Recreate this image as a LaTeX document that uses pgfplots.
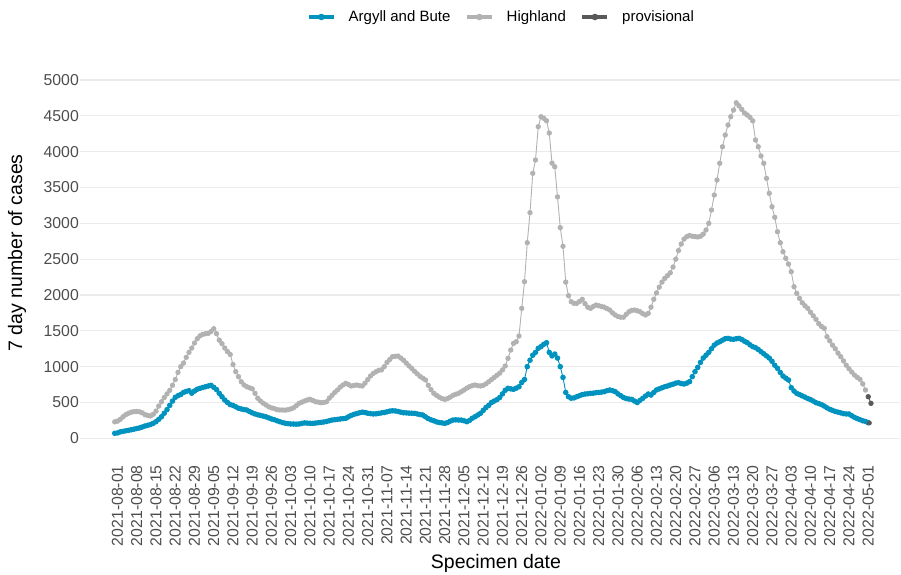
\documentclass[border=0pt]{standalone}
\usepackage{pgfplots}
\pgfplotsset{compat=1.18}
\usepackage{fontspec}
\setmainfont{Liberation Sans}
\definecolor{argyll}{RGB}{0,147,191}
\definecolor{highland}{RGB}{178,178,178}
\definecolor{prov}{RGB}{89,89,89}
\definecolor{gridc}{RGB}{235,235,235}
\definecolor{tickc}{RGB}{77,77,77}
\begin{document}
\begin{tikzpicture}
\path[use as bounding box] (0pt,0pt) rectangle (901pt,574pt);
\begin{axis}[
  at={(80pt,122pt)}, anchor=south west,
  scale only axis, width=820pt, height=382pt,
  xmin=-13.64, xmax=284.55, ymin=-191, ymax=5140,
  axis line style={draw=none},
  major tick length=0pt,
  ymajorgrids, grid style={gridc, line width=1.1pt},
  ytick={0,500,...,5000},
  xtick={0,7,...,273},
  xticklabels={2021-08-01,2021-08-08,2021-08-15,2021-08-22,2021-08-29,2021-09-05,2021-09-12,2021-09-19,2021-09-26,2021-10-03,2021-10-10,2021-10-17,2021-10-24,2021-10-31,2021-11-07,2021-11-14,2021-11-21,2021-11-28,2021-12-05,2021-12-12,2021-12-19,2021-12-26,2022-01-02,2022-01-09,2022-01-16,2022-01-23,2022-01-30,2022-02-06,2022-02-13,2022-02-20,2022-02-27,2022-03-06,2022-03-13,2022-03-20,2022-03-27,2022-04-03,2022-04-10,2022-04-17,2022-04-24,2022-05-01},
  tick label style={font=\fontsize{15.8}{18}\selectfont, color=tickc},
  yticklabel style={anchor=east, inner sep=0pt},
  yticklabel shift=1pt,
  xticklabel style={rotate=90, anchor=east, inner sep=0pt},
  xticklabel shift=13pt,
  /pgf/number format/assume math mode=true,
  /pgf/number format/1000 sep={},
  xlabel={Specimen date}, ylabel={7 day number of cases},
  label style={font=\fontsize{19.5}{22}\selectfont},
  xlabel style={at={(axis description cs:0.5073,-0.2906)}, anchor=center},
  ylabel style={at={(axis description cs:-0.0768,0.521)}, anchor=center},
  legend columns=3,
  legend style={at={(axis description cs:0.5140,1.1387)}, anchor=center, draw=none, fill=none,
    font=\fontsize{15}{18}\selectfont,
    /tikz/every odd column/.append style={column sep=11pt},
    /tikz/every even column/.append style={column sep=12.7pt}},
  legend image code/.code={\draw[#1, line width=3.6pt] (0pt,0pt) -- (25pt,0pt); \fill[#1] (12.5pt,0pt) circle (2.8pt);},
]
\addplot[argyll, line width=0.9pt, mark=*, mark size=2.3pt] coordinates {
(-1,70)(0,75)(1,90)(2,97)(3,105)(4,112)(5,120)(6,128)(7,137)(8,145)(9,158)(10,172)(11,182)(12,192)(13,210)(14,232)(15,265)(16,301)(17,350)(18,400)(19,460)(20,520)(21,572)(22,595)(23,612)(24,640)(25,655)(26,665)(27,630)(28,660)(29,685)(30,698)(31,710)(32,720)(33,730)(34,740)(35,712)(36,680)(37,628)(38,580)(39,534)(40,500)(41,470)(42,460)(43,440)(44,420)(45,410)(46,400)(47,395)(48,375)(49,355)(50,340)(51,328)(52,320)(53,310)(54,300)(55,285)(56,270)(57,260)(58,245)(59,232)(60,220)(61,210)(62,205)(63,200)(64,200)(65,198)(66,200)(67,208)(68,215)(69,212)(70,210)(71,209)(72,213)(73,218)(74,222)(75,228)(76,235)(77,245)(78,255)(79,260)(80,265)(81,270)(82,275)(83,280)(84,300)(85,320)(86,335)(87,345)(88,357)(89,365)(90,360)(91,350)(92,345)(93,340)(94,342)(95,348)(96,355)(97,360)(98,370)(99,380)(100,385)(101,382)(102,375)(103,365)(104,357)(105,355)(106,352)(107,350)(108,349)(109,340)(110,332)(111,325)(112,300)(113,275)(114,258)(115,245)(116,230)(117,220)(118,215)(119,209)(120,220)(121,240)(122,255)(123,258)(124,255)(125,255)(126,245)(127,232)(128,250)(129,280)(130,301)(131,325)(132,349)(133,390)(134,430)(135,460)(136,500)(137,520)(138,540)(139,570)(140,620)(141,670)(142,698)(143,690)(144,684)(145,700)(146,720)(147,780)(148,820)(149,1000)(150,1090)(151,1160)(152,1200)(153,1256)(154,1280)(155,1312)(156,1334)(157,1200)(158,1150)(159,1176)(160,1120)(161,1000)(162,850)(163,640)(164,580)(165,560)(166,565)(167,580)(168,595)(169,610)(170,618)(171,622)(172,628)(173,630)(174,637)(175,640)(176,645)(177,651)(178,665)(179,674)(180,665)(181,651)(182,620)(183,595)(184,570)(185,555)(186,548)(187,544)(188,520)(189,500)(190,530)(191,558)(192,590)(193,618)(194,604)(195,640)(196,675)(197,690)(198,705)(199,720)(200,730)(201,744)(202,755)(203,770)(204,776)(205,765)(206,758)(207,770)(208,790)(209,860)(210,930)(211,990)(212,1060)(213,1120)(214,1160)(215,1200)(216,1250)(217,1300)(218,1330)(219,1348)(220,1370)(221,1390)(222,1395)(223,1385)(224,1382)(225,1390)(226,1395)(227,1380)(228,1355)(229,1335)(230,1305)(231,1279)(232,1265)(233,1240)(234,1209)(235,1180)(236,1150)(237,1120)(238,1075)(239,1020)(240,977)(241,920)(242,869)(243,840)(244,814)(245,707)(246,660)(247,628)(248,610)(249,592)(250,575)(251,555)(252,540)(253,520)(254,497)(255,485)(256,470)(257,450)(258,425)(259,405)(260,390)(261,375)(262,365)(263,355)(264,345)(265,340)(266,339)(267,315)(268,293)(269,275)(270,260)(271,245)(272,235)(273,218)
};
\addlegendentry{Argyll and Bute}
\addplot[highland, line width=0.9pt, mark=*, mark size=2.2pt] coordinates {
(-1,230)(0,240)(1,265)(2,300)(3,330)(4,350)(5,365)(6,372)(7,375)(8,370)(9,355)(10,330)(11,320)(12,312)(13,335)(14,380)(15,450)(16,510)(17,570)(18,620)(19,670)(20,740)(21,820)(22,920)(23,1000)(24,1050)(25,1130)(26,1200)(27,1260)(28,1330)(29,1390)(30,1430)(31,1450)(32,1460)(33,1465)(34,1490)(35,1530)(36,1460)(37,1370)(38,1320)(39,1260)(40,1210)(41,1170)(42,1030)(43,930)(44,860)(45,790)(46,745)(47,720)(48,705)(49,690)(50,628)(51,560)(52,520)(53,490)(54,465)(55,440)(56,425)(57,415)(58,400)(59,395)(60,395)(61,393)(62,400)(63,410)(64,425)(65,455)(66,488)(67,505)(68,520)(69,535)(70,545)(71,530)(72,511)(73,505)(74,497)(75,500)(76,510)(77,560)(78,600)(79,640)(80,675)(81,715)(82,744)(83,767)(84,750)(85,730)(86,738)(87,744)(88,735)(89,730)(90,770)(91,820)(92,870)(93,905)(94,929)(95,950)(96,955)(97,1000)(98,1060)(99,1100)(100,1139)(101,1145)(102,1148)(103,1120)(104,1090)(105,1050)(106,1010)(107,975)(108,935)(109,900)(110,865)(111,840)(112,814)(113,740)(114,680)(115,628)(116,600)(117,575)(118,555)(119,544)(120,555)(121,575)(122,600)(123,615)(124,628)(125,650)(126,674)(127,700)(128,720)(129,735)(130,744)(131,735)(132,730)(133,740)(134,760)(135,790)(136,820)(137,850)(138,880)(139,910)(140,955)(141,1009)(142,1116)(143,1232)(144,1325)(145,1348)(146,1428)(147,1814)(148,2186)(149,2730)(150,3149)(151,3698)(152,3884)(153,4349)(154,4488)(155,4466)(156,4432)(157,4260)(158,3840)(159,3790)(160,3370)(161,2940)(162,2680)(163,2180)(164,1990)(165,1906)(166,1884)(167,1884)(168,1910)(169,1940)(170,1880)(171,1830)(172,1814)(173,1840)(174,1860)(175,1850)(176,1840)(177,1830)(178,1810)(179,1790)(180,1750)(181,1721)(182,1700)(183,1690)(184,1690)(185,1730)(186,1767)(187,1785)(188,1790)(189,1780)(190,1767)(191,1740)(192,1721)(193,1744)(194,1830)(195,1940)(196,2030)(197,2110)(198,2180)(199,2232)(200,2270)(201,2310)(202,2390)(203,2500)(204,2620)(205,2712)(206,2780)(207,2814)(208,2830)(209,2820)(210,2815)(211,2810)(212,2820)(213,2850)(214,2907)(215,3000)(216,3186)(217,3395)(218,3605)(219,3838)(220,4069)(221,4233)(222,4372)(223,4488)(224,4581)(225,4683)(226,4640)(227,4590)(228,4540)(229,4512)(230,4480)(231,4430)(232,4163)(233,4069)(234,3940)(235,3838)(236,3628)(237,3419)(238,3232)(239,3084)(240,2883)(241,2730)(242,2604)(243,2512)(244,2432)(245,2325)(246,2116)(247,2023)(248,1953)(249,1892)(250,1850)(251,1814)(252,1760)(253,1710)(254,1660)(255,1600)(256,1560)(257,1535)(258,1418)(259,1360)(260,1300)(261,1250)(262,1190)(263,1139)(264,1080)(265,1020)(266,970)(267,925)(268,883)(269,850)(270,823)(271,760)(272,674)
};
\addlegendentry{Highland}
\addplot[prov, line width=0.9pt, mark=*, mark size=2.2pt] coordinates {(273,581)(274,488)};
\addlegendentry{provisional}
\addplot[prov, line width=0.9pt, mark=*, mark size=2.0pt, forget plot] coordinates {(273.4,214)};
\end{axis}
\end{tikzpicture}
\end{document}
